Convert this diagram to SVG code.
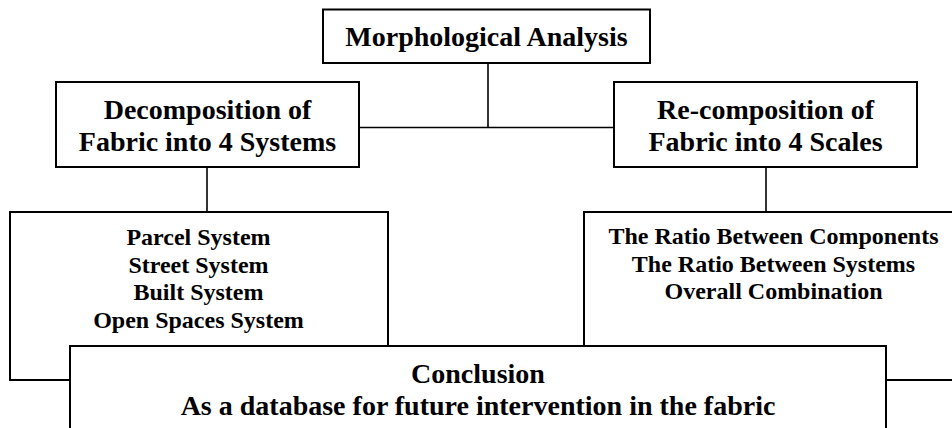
<svg xmlns="http://www.w3.org/2000/svg" width="952" height="428" viewBox="0 0 952 428">
<style>
.box{fill:#fff;stroke:#000;stroke-width:2}
.con{fill:none;stroke:#000;stroke-width:1.6}
text{font-family:"Liberation Serif","Times New Roman",serif;font-weight:bold;fill:#000;text-anchor:middle}
.h{font-size:28px}
.s{font-size:24px}
</style>
<rect width="952" height="428" fill="#fff"/>
<g id="connectors">
<line class="con" x1="488" y1="63" x2="488" y2="127.5"/>
<line class="con" x1="359" y1="127.5" x2="614" y2="127.5"/>
<line class="con" x1="207" y1="167" x2="207" y2="212"/>
<line class="con" x1="766" y1="167" x2="766" y2="212"/>
</g>
<g id="morph">
<rect class="box" x="323" y="9.5" width="327" height="53.5"/>
<text class="h" x="486.5" y="46">Morphological Analysis</text>
</g>
<g id="decomp">
<rect class="box" x="56" y="82" width="303" height="85"/>
<text class="h" x="207.5" y="119">Decomposition of</text>
<text class="h" x="207.5" y="151">Fabric into 4 Systems</text>
</g>
<g id="recomp">
<rect class="box" x="614" y="82" width="303" height="85"/>
<text class="h" x="765.5" y="119">Re-composition of</text>
<text class="h" x="765.5" y="151">Fabric into 4 Scales</text>
</g>
<g id="systems">
<rect class="box" x="10" y="212" width="378" height="168"/>
<text class="s" x="198.5" y="245">Parcel System</text>
<text class="s" x="198.5" y="272.5">Street System</text>
<text class="s" x="198.5" y="300">Built System</text>
<text class="s" x="198.5" y="327.5">Open Spaces System</text>
</g>
<g id="scales">
<rect class="box" x="584" y="212" width="380" height="168"/>
<text class="s" x="773.5" y="244">The Ratio Between Components</text>
<text class="s" x="773.5" y="272">The Ratio Between Systems</text>
<text class="s" x="773.5" y="299">Overall Combination</text>
</g>
<g id="conclusion">
<rect class="box" x="70" y="346" width="816" height="100"/>
<text class="h" x="478" y="383">Conclusion</text>
<text class="h" x="478" y="415">As a database for future intervention in the fabric</text>
</g>
</svg>
